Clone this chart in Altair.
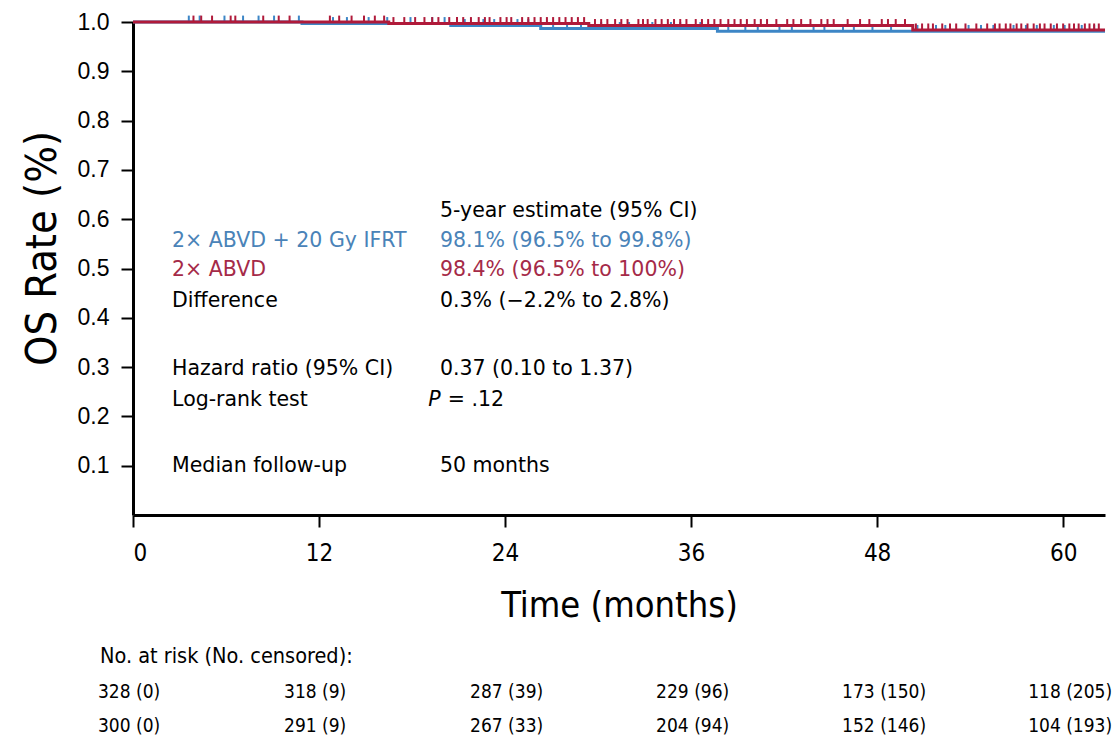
import altair as alt
import pandas as pd

# ---- Data ----
blue_name = "2× ABVD + 20 Gy IFRT"
red_name = "2× ABVD"

blue_t = [0, 10.9, 20.5, 26.3, 37.7, 62.7]
blue_s = [1.0, 0.997, 0.993, 0.987, 0.981, 0.981]
red_t = [0, 16.5, 29.4, 50.3, 62.7]
red_s = [1.0, 0.997, 0.993, 0.984, 0.984]

blue_cens = [3.6, 4.3, 5.9, 7.1, 8.1, 9.1, 10.7, 12.9, 13.8, 15.2, 16.4, 17.9, 19.3, 20.1,
             21.4, 22.6, 23.3, 24.8, 25.5, 27.1, 28.0, 28.9, 30.2, 31.4, 32.0, 33.5, 34.7,
             35.3, 36.6, 38.4, 39.5, 40.3, 41.7, 42.5, 43.9, 44.6, 45.8, 46.5, 47.7, 48.9,
             50.6, 51.8, 52.4, 53.9, 54.7, 55.5, 56.8, 57.6, 58.3, 59.4, 60.1, 61.2, 62.0]
red_cens = [3.9, 4.4, 5.1, 6.3, 6.6, 8.4, 9.4, 10.1, 12.7, 13.3, 14.1, 14.9, 15.6, 16.2, 16.8,
            17.5, 18.2, 18.8, 19.3, 19.7, 20.4, 20.9, 21.3, 21.8, 22.3, 22.7, 23.0, 23.7, 24.1,
            24.4, 25.1, 25.5, 25.9, 26.3, 26.7, 27.1, 27.5, 27.9, 28.3, 28.7, 29.1, 29.8,
            30.2, 30.6, 31.1, 31.5, 31.9, 32.6, 32.9, 33.2, 33.7, 34.1, 34.5, 34.9, 35.3,
            35.7, 36.3, 36.7, 37.1, 37.5, 37.9, 38.4, 38.8, 39.2, 39.6, 40.1, 40.5, 40.9,
            41.5, 42.2, 42.6, 43.1, 43.7, 44.4, 44.8, 45.2, 46.1, 46.9, 47.5, 48.3, 48.7,
            49.2, 49.8, 50.5, 50.9, 51.3, 51.6, 52.2, 52.7, 53.1, 53.7, 54.4, 55.1, 55.6,
            55.9, 56.3, 56.6, 57.0, 57.3, 57.7, 58.1, 58.5, 58.8, 59.2, 59.6, 60.0, 60.4,
            60.7, 61.0, 61.4, 61.7, 62.0, 62.3]

x_ticks = [0, 12, 24, 36, 48, 60]
y_ticks = [0.1, 0.2, 0.3, 0.4, 0.5, 0.6, 0.7, 0.8, 0.9, 1.0]

risk_times = [0, 12, 24, 36, 48, 60]
risk_blue = ["328 (0)", "318 (9)", "287 (39)", "229 (96)", "173 (150)", "118 (205)"]
risk_red = ["300 (0)", "291 (9)", "267 (33)", "204 (94)", "152 (146)", "104 (193)"]

ann_left = ["", blue_name, red_name, "Difference", "Hazard ratio (95% CI)", "Log-rank test", "Median follow-up"]
ann_right = ["5-year estimate (95% CI)", "98.1% (96.5% to 99.8%)", "98.4% (96.5% to 100%)",
             "0.3% (\u22122.2% to 2.8%)", "0.37 (0.10 to 1.37)", "= .12", "50 months"]
ann_y = [0.617, 0.556, 0.497, 0.434, 0.296, 0.233, 0.0994]

BLUE = "#3d86c6"
RED = "#b01a3a"
BLUE_TXT = "#4a83b8"
RED_TXT = "#a52a48"
COND = "Liberation Sans Narrow, DejaVu Sans Condensed, Roboto Condensed, Liberation Sans, sans-serif"
TXT = "DejaVu Sans, Verdana, sans-serif"


def step_value(ts, ss, t):
    v = ss[0]
    for a, b in zip(ts, ss):
        if a <= t:
            v = b
    return v


curves = pd.DataFrame(
    [{"t": t, "s": s, "arm": "blue"} for t, s in zip(blue_t, blue_s)]
    + [{"t": t, "s": s, "arm": "red"} for t, s in zip(red_t, red_s)]
)
cens = pd.DataFrame(
    [{"t": t, "s": step_value(blue_t, blue_s, t), "arm": "blue"} for t in blue_cens]
    + [{"t": t, "s": step_value(red_t, red_s, t), "arm": "red"} for t in red_cens]
)
cens["s2"] = cens["s"] + 0.013

xscale = alt.Scale(domain=[0, 62.7], nice=False, zero=False)
yscale = alt.Scale(domain=[0, 1.0], nice=False)

xaxis = alt.Axis(values=x_ticks, title="Time (months)", grid=False, domainWidth=3,
                 domainColor="black", tickColor="black", tickWidth=2, tickSize=12,
                 labelFontSize=24, labelFont=COND, labelColor="black", labelPadding=14,
                 titleFontSize=36, titleFont=COND, titleFontWeight="normal",
                 titleColor="black", titleY=90, titleBaseline="middle")
yaxis = alt.Axis(values=y_ticks, format=".1f", title="OS Rate (%)", grid=False, domainWidth=3,
                 domainColor="black", tickColor="black", tickWidth=2, tickSize=12,
                 labelFontSize=23, labelFont="Liberation Sans, Arial, sans-serif",
                 labelColor="black", labelPadding=12,
                 titleFontSize=43, titleFont=COND, titleFontWeight="normal",
                 titleColor="black", titleX=-91, titleY=226, titleAngle=-90,
                 titleAlign="center", titleBaseline="middle")


def line_layer(arm, color):
    return alt.Chart(curves[curves.arm == arm]).mark_line(
        interpolate="step-after", strokeWidth=3, color=color
    ).encode(x=alt.X("t:Q", scale=xscale, axis=xaxis), y=alt.Y("s:Q", scale=yscale, axis=yaxis))


def cens_layer(arm, color):
    return alt.Chart(cens[cens.arm == arm]).mark_rule(strokeWidth=2, color=color).encode(
        x=alt.X("t:Q", scale=xscale), y=alt.Y("s:Q", scale=yscale), y2="s2:Q")


ann = pd.DataFrame({
    "left": ann_left, "right": ann_right, "y": ann_y,
    "c": ["black", BLUE_TXT, RED_TXT, "black", "black", "black", "black"],
})
ann["xl"] = 2.52
ann["xr"] = 19.8
ann.loc[ann["right"] == "= .12", "xr"] = 20.3

FS = 20.5
left_txt = alt.Chart(ann).mark_text(align="left", baseline="middle", fontSize=FS, font=TXT).encode(
    x=alt.X("xl:Q", scale=xscale), y=alt.Y("y:Q", scale=yscale), text="left:N",
    color=alt.Color("c:N", scale=None))
right_txt = alt.Chart(ann).mark_text(align="left", baseline="middle", fontSize=FS, font=TXT).encode(
    x=alt.X("xr:Q", scale=xscale), y=alt.Y("y:Q", scale=yscale), text="right:N",
    color=alt.Color("c:N", scale=None))
p_df = pd.DataFrame({"x": [19.05], "y": [0.233], "txt": ["P"]})
p_txt = alt.Chart(p_df).mark_text(align="left", baseline="middle", fontSize=FS, font=TXT,
                                  fontStyle="italic", color="black").encode(
    x=alt.X("x:Q", scale=xscale), y=alt.Y("y:Q", scale=yscale), text="txt:N")

risk = pd.DataFrame({"t": risk_times, "b": risk_blue, "r": risk_red})
RFS = 19
risk_hdr = alt.Chart(pd.DataFrame({"t": [0], "txt": ["No. at risk (No. censored):"]})).mark_text(
    align="left", baseline="middle", fontSize=21.5, font=COND, dx=-33, color="black").encode(
    x=alt.X("t:Q", scale=xscale), y=alt.value(635), text="txt:N")
risk_b = alt.Chart(risk).mark_text(align="left", baseline="middle", fontSize=RFS, font=COND,
                                   dx=-35, color="black").encode(
    x=alt.X("t:Q", scale=xscale), y=alt.value(670), text="b:N")
risk_r = alt.Chart(risk).mark_text(align="left", baseline="middle", fontSize=RFS, font=COND,
                                   dx=-35, color="black").encode(
    x=alt.X("t:Q", scale=xscale), y=alt.value(704), text="r:N")

chart = alt.layer(
    line_layer("blue", BLUE), cens_layer("blue", BLUE),
    line_layer("red", RED), cens_layer("red", RED),
    left_txt, right_txt, p_txt, risk_hdr, risk_b, risk_r,
).properties(
    width=972, height=493,
    autosize=alt.AutoSizeParams(type="none"),
    padding={"left": 133, "top": 22, "right": 15, "bottom": 229},
    background="white",
).configure_view(stroke=None)

chart.save("out.html", embed_options={"renderer": "svg", "actions": False})
